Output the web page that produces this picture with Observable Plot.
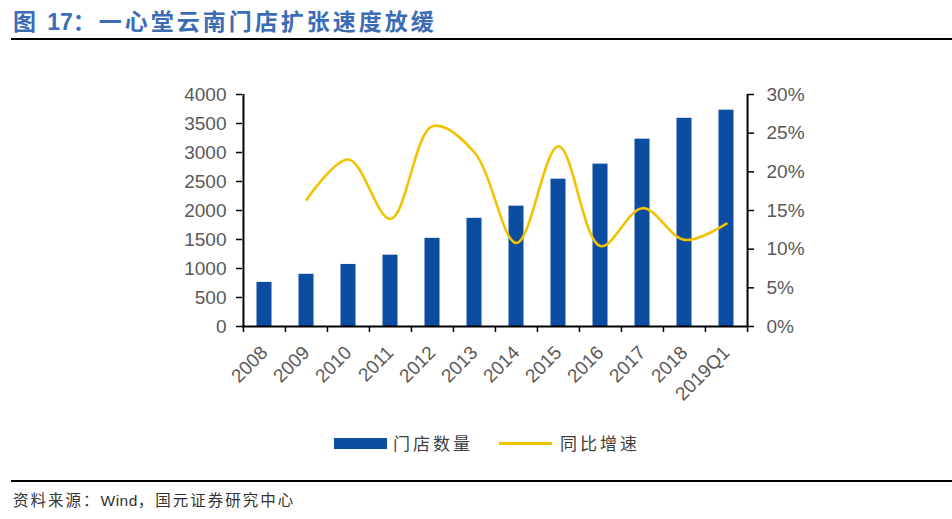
<!DOCTYPE html>
<html>
<head>
<meta charset="utf-8">
<script src="https://cdn.jsdelivr.net/npm/d3@7"></script>
<script src="https://cdn.jsdelivr.net/npm/@observablehq/plot@0.6"></script>
<style>
  html, body { margin: 0; padding: 0; background: #fff; }
  #wrap { position: relative; width: 952px; height: 519px; overflow: hidden; background: #fff; }
  #chart { position: absolute; left: 0; top: 0; }
  .title { position: absolute; left: 13px; top: 3px; font-family: "Noto Sans CJK SC", sans-serif; font-weight: bold; font-size: 23px; letter-spacing: 3px; color: #3B6CB5; white-space: nowrap; }
  .title .num { font-family: "Liberation Sans", Arial, sans-serif; letter-spacing: 0; }
  .hr { position: absolute; left: 11px; right: 0; height: 1.5px; background: #000; }
  .leg { position: absolute; font-family: "Noto Sans CJK SC", sans-serif; font-size: 17px; letter-spacing: 3px; color: #404040; line-height: 20px; white-space: nowrap; }
  .src { position: absolute; left: 13px; top: 489px; font-family: "Noto Sans CJK SC", sans-serif; font-size: 15.5px; letter-spacing: 2px; color: #333; white-space: nowrap; line-height: 20px; }
  .src .lat { font-family: "Liberation Sans", Arial, sans-serif; letter-spacing: 0.5px; }
</style>
</head>
<body>
<div id="wrap">
  <div id="chart"></div>
  <div class="title">图 <span class="num">17</span>：一心堂云南门店扩张速度放缓</div>
  <div class="hr" style="top:38px"></div>
  <div style="position:absolute;left:334px;top:438px;width:53px;height:11px;background:#0C4DA2"></div>
  <div class="leg" style="left:393px;top:433px">门店数量</div>
  <div style="position:absolute;left:499px;top:442px;width:53px;height:3px;background:#F2C200"></div>
  <div class="leg" style="left:560px;top:433px">同比增速</div>
  <div class="hr" style="top:480px"></div>
  <div class="src">资料来源：<span class="lat">Wind</span>，国元证券研究中心</div>
</div>
<script>
const categories = ["2008","2009","2010","2011","2012","2013","2014","2015","2016","2017","2018","2019Q1"];
const stores = [760, 900, 1070, 1230, 1520, 1865, 2075, 2540, 2800, 3230, 3590, 3730];
const growth = [null, 16.4, 21.6, 13.9, 25.9, 22.5, 10.8, 23.3, 10.4, 15.3, 11.2, 13.3];
const leftTicks = [0, 500, 1000, 1500, 2000, 2500, 3000, 3500, 4000];
const rightTicks = [0, 5, 10, 15, 20, 25, 30];

const data = categories.map((c, i) => ({cat: c, stores: stores[i], growth: growth[i]}));
const W = 952, H = 519, mL = 242, mR = 205, mT = 94, mB = 193;
const step = (W - mL - mR) / categories.length;
const k = 4000 / 30; // percent -> left-axis units

const chart = Plot.plot({
  width: W, height: H,
  marginLeft: mL, marginRight: mR, marginTop: mT, marginBottom: mB,
  style: {fontFamily: "'Liberation Sans', Arial, sans-serif", fontSize: "19px", color: "#595959", background: "transparent", overflow: "visible"},
  x: {domain: categories, padding: 0, axis: null, label: null},
  y: {domain: [0, 4000], axis: null, label: null},
  marks: [
    Plot.barY(data, {x: "cat", y: "stores", fill: "#0C4DA2", insetLeft: 13.5, insetRight: 13.5}),
    Plot.line(data.filter(d => d.growth != null), {x: "cat", y: d => d.growth * k, stroke: "#F2C200", strokeWidth: 2.6, curve: "catmull-rom"}),
    Plot.ruleY([0], {stroke: "#000", strokeWidth: 2}),
    Plot.ruleX([categories[0]], {dx: -step / 2, stroke: "#000", strokeWidth: 2}),
    Plot.ruleX([categories[categories.length - 1]], {dx: step / 2, stroke: "#000", strokeWidth: 2}),
    Plot.axisY(leftTicks, {anchor: "left", label: null, tickSize: 6, tickPadding: 10, stroke: "#000", strokeWidth: 1.5, fill: "#595959", fontSize: 19, tickFormat: d => String(d)}),
    Plot.axisY(rightTicks.map(p => p * k), {anchor: "right", label: null, tickSize: 6, tickPadding: 13, stroke: "#000", strokeWidth: 1.5, fill: "#595959", fontSize: 19, tickFormat: d => Math.round(d / k) + "%"}),
    Plot.axisX(categories, {anchor: "bottom", label: null, tickSize: 6, dx: -step / 2, stroke: "#000", strokeWidth: 1.5, tickFormat: () => ""}),
    Plot.axisX([categories[categories.length - 1]], {anchor: "bottom", label: null, tickSize: 6, dx: step / 2, stroke: "#000", strokeWidth: 1.5, tickFormat: () => ""}),
    Plot.axisX(categories, {anchor: "bottom", label: null, tickSize: 0, tickPadding: 23, tickRotate: -45, fill: "#595959", fontSize: 19})
  ]
});
document.getElementById("chart").appendChild(chart);
</script>
</body>
</html>
